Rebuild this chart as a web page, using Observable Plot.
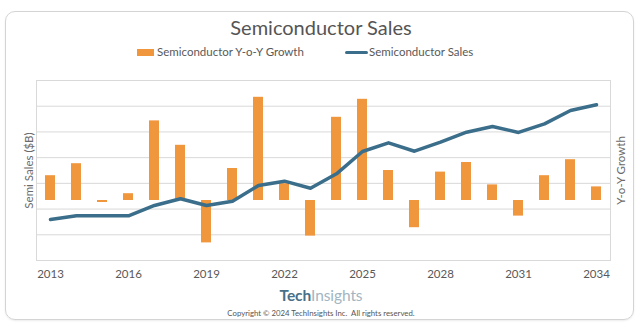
<!DOCTYPE html>
<html>
<head>
<meta charset="utf-8">
<script src="https://cdn.jsdelivr.net/npm/d3@7"></script>
<script src="https://cdn.jsdelivr.net/npm/@observablehq/plot@0.6"></script>
<style>
  html, body { margin: 0; padding: 0; background: #fff; }
  #wrap { position: relative; width: 642px; height: 327px; font-family: Lato, "Open Sans", sans-serif; color: #595959; overflow: hidden; }
  #box { position: absolute; left: 5px; top: 11px; width: 627px; height: 307px; border: 1.5px solid #d4d4d4; border-radius: 10px; box-shadow: 0 1px 2px rgba(0,0,0,0.08); }
  #title { position: absolute; left: 0; width: 642px; top: 15px; text-align: center; font-size: 20px; color: #555; }
  #legend { position: absolute; left: 0; width: 642px; top: 45px; font-size: 11.5px; color: #595959; }
  .lg { position: absolute; top: 0; white-space: nowrap; }
  .sw-bar { display: inline-block; width: 17px; height: 7px; background: #F0963C; vertical-align: middle; margin-right: 3px; position: relative; top: -1px; }
  .sw-line { display: inline-block; width: 23px; height: 3px; border-radius: 2px; background: #3B6E8A; vertical-align: middle; margin-right: 1px; position: relative; top: -1px; }
  #chart { position: absolute; left: 0; top: 70px; }
  #logo { position: absolute; left: 0; width: 642px; top: 288px; line-height: 15px; text-align: center; font-size: 15.5px; font-weight: bold; letter-spacing: -0.1px; }
  #logo .t { color: #4A6F88; }
  #logo .i { color: #A3B5C2; font-weight: normal; }
  #copy { position: absolute; left: 0; width: 642px; top: 309px; line-height: 8px; text-align: center; font-size: 7.8px; color: #555; }
</style>
</head>
<body>
<div id="wrap">
  <div id="box"></div>
  <div id="title">Semiconductor Sales</div>
  <div id="legend">
    <span class="lg" style="left:137px"><span class="sw-bar"></span>Semiconductor Y-o-Y Growth</span>
    <span class="lg" style="left:345px"><span class="sw-line"></span>Semiconductor Sales</span>
  </div>
  <div id="chart"></div>
  <div id="logo"><span class="t">Tech</span><span class="i">Insights</span></div>
  <div id="copy">Copyright © 2024 TechInsights Inc.&nbsp; All rights reserved.</div>
</div>
<script>
const years = [2013, 2014, 2015, 2016, 2017, 2018, 2019, 2020, 2021, 2022, 2023,
               2024, 2025, 2026, 2027, 2028, 2029, 2030, 2031, 2032, 2033, 2034];
// Semiconductor sales ($B), left axis
const sales = [319, 348, 348, 348, 428, 480, 428, 461, 583, 617, 562,
               674, 848, 915, 850, 920, 998, 1042, 996, 1063, 1167, 1211];
// Year-over-year growth (%), right axis
const growth = [6.2, 9.2, -0.5, 1.7, 19.9, 13.8, -10.6, 8.0, 25.8, 4.2, -8.9,
                20.8, 25.3, 7.5, -6.8, 7.1, 9.5, 3.9, -3.9, 6.2, 10.2, 3.4];
const tickYears = [2013, 2016, 2019, 2022, 2025, 2028, 2031, 2034];
const salesGrid = [0, 200, 400, 600, 800, 1000, 1200, 1400];
const salesDomain = [0, 1400];
const growthDomain = [-15, 30];

const data = years.map((year, i) => ({year, sales: sales[i], growth: growth[i]}));

// map the secondary (growth) axis onto the primary y scale
const g2y = d3.scaleLinear().domain(growthDomain).range(salesDomain);

const chart = Plot.plot({
  width: 642,
  height: 215,
  marginLeft: 36,
  marginRight: 32,
  marginTop: 10,
  marginBottom: 25,
  style: {fontFamily: "Lato, 'Open Sans', sans-serif", fontSize: "11.5px", color: "#595959", background: "transparent"},
  x: {type: "band", domain: years, paddingInner: 0.6, paddingOuter: 0.3},
  y: {domain: salesDomain, axis: null},
  marks: [
    Plot.ruleY(salesGrid, {stroke: "#d9d9d9", strokeWidth: 1}),
    Plot.frame({stroke: "#d9d9d9"}),
    Plot.barY(data, {x: "year", y1: () => g2y(0), y2: d => g2y(d.growth), fill: "#F0963C"}),
    Plot.line(data, {x: "year", y: "sales", stroke: "#3B6E8A", strokeWidth: 3.5, strokeLinejoin: "round", strokeLinecap: "round"}),
    Plot.axisX({ticks: tickYears, tickSize: 0, tickPadding: 9, tickFormat: "d", label: null, fill: "#595959"}),
    Plot.text(["Semi Sales ($B)"], {frameAnchor: "left", textAnchor: "middle", rotate: -90, dx: -7, fill: "#6b6b6b", fontSize: 11.5}),
    Plot.text(["Y-o-Y Growth"], {frameAnchor: "right", textAnchor: "middle", rotate: -90, dx: 11, fill: "#6b6b6b", fontSize: 11.5})
  ]
});
document.getElementById("chart").appendChild(chart);
</script>
</body>
</html>
